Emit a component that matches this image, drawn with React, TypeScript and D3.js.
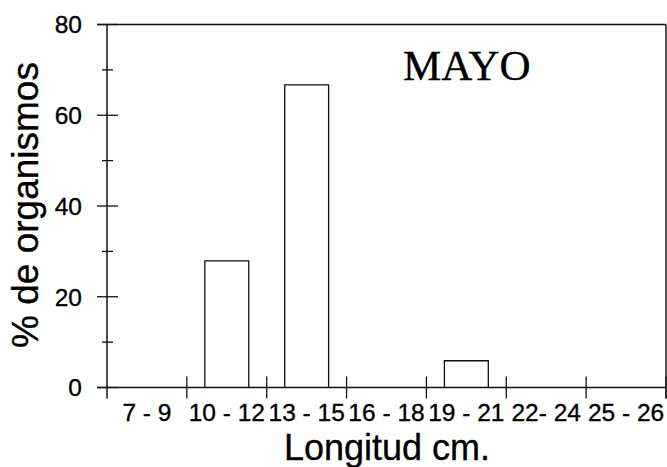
import React from "react";
import * as d3 from "d3";

const categories = ["7 - 9", "10 - 12", "13 - 15", "16 - 18", "19 - 21", "22- 24", "25 - 26"];
const percentages = [0, 27.9, 66.7, 0, 5.9, 0, 0];
const majorYTicks = [0, 20, 40, 60, 80];
const minorYTicks = [10, 30, 50, 70];
const yTitle = "% de organismos";
const xTitle = "Longitud cm.";
const panelLabel = "MAYO";

const W = 667;
const H = 467;
const left = 107;
const right = 666;
const top = 24.5;
const bottom = 387.5;

export default function App() {
  const y = d3.scaleLinear().domain([0, 80]).range([bottom, top]);
  const xEdge = d3.scaleLinear().domain([0, categories.length]).range([left, right]);
  const xBand = d3
    .scaleBand<string>()
    .domain(categories)
    .range([left, right])
    .paddingInner(0.45)
    .paddingOuter(0.225);

  const sans = "'Liberation Sans', Arial, Helvetica, sans-serif";
  const stroke = "#111";
  const textStroke = { stroke: "#000", strokeWidth: 0.35 };

  return (
    <svg
      width={W}
      height={H}
      viewBox={`0 0 ${W} ${H}`}
      style={{ position: "absolute", left: 0, top: 0, background: "#fff" }}
    >
      <rect x={0} y={0} width={W} height={H} fill="#fff" />
      {/* bars */}
      {categories.map((c, i) =>
        percentages[i] > 0 ? (
          <path
            key={c}
            d={`M${xBand(c)},${y(0)}V${y(percentages[i])}H${(xBand(c) as number) + xBand.bandwidth()}V${y(0)}`}
            fill="none"
            stroke={stroke}
            strokeWidth={1.3}
          />
        ) : null
      )}
      {/* frame */}
      <line x1={97} x2={right} y1={y(80)} y2={y(80)} stroke={stroke} strokeWidth={1.4} />
      <line x1={right} x2={right} y1={y(80)} y2={bottom + 11} stroke={stroke} strokeWidth={1.4} />
      <line x1={97} x2={right} y1={y(0)} y2={y(0)} stroke={stroke} strokeWidth={1.5} />
      <line x1={left} x2={left} y1={y(80)} y2={bottom + 11} stroke={stroke} strokeWidth={1.5} />
      {/* y ticks */}
      {majorYTicks.map((t) => (
        <line key={"M" + t} x1={97} x2={118} y1={y(t)} y2={y(t)} stroke={stroke} strokeWidth={1.3} />
      ))}
      {minorYTicks.map((t) => (
        <line key={"m" + t} x1={102} x2={113} y1={y(t)} y2={y(t)} stroke={stroke} strokeWidth={1.3} />
      ))}
      {majorYTicks.map((t) => (
        <text
          key={"l" + t}
          x={82}
          y={y(t)}
          dy="0.36em"
          textAnchor="end"
          fontFamily={sans}
          fontSize={24.5}
          fill="#000"
          {...textStroke}
        >
          {t}
        </text>
      ))}
      {/* x ticks */}
      {d3.range(1, categories.length + 1).map((i) => (
        <line
          key={"xt" + i}
          x1={xEdge(i)}
          x2={xEdge(i)}
          y1={bottom - 11}
          y2={bottom + 11}
          stroke={stroke}
          strokeWidth={1.3}
        />
      ))}
      {categories.map((c) => (
        <text
          key={"xl" + c}
          x={(xBand(c) as number) + xBand.bandwidth() / 2}
          y={421}
          textAnchor="middle"
          fontFamily={sans}
          fontSize={24.5}
          fill="#000"
          {...textStroke}
        >
          {c}
        </text>
      ))}
      {/* titles */}
      <text
        x={387}
        y={460}
        textAnchor="middle"
        fontFamily={sans}
        fontSize={36}
        fill="#000"
        {...textStroke}
      >
        {xTitle}
      </text>
      <text
        transform={`translate(38, 205) rotate(-90)`}
        textAnchor="middle"
        fontFamily={sans}
        fontSize={37}
        fill="#000"
        {...textStroke}
      >
        {yTitle}
      </text>
      <text
        x={403}
        y={80}
        fontFamily="'Liberation Serif', 'Times New Roman', serif"
        fontSize={43}
        fill="#000"
        {...textStroke}
      >
        {panelLabel}
      </text>
    </svg>
  );
}
